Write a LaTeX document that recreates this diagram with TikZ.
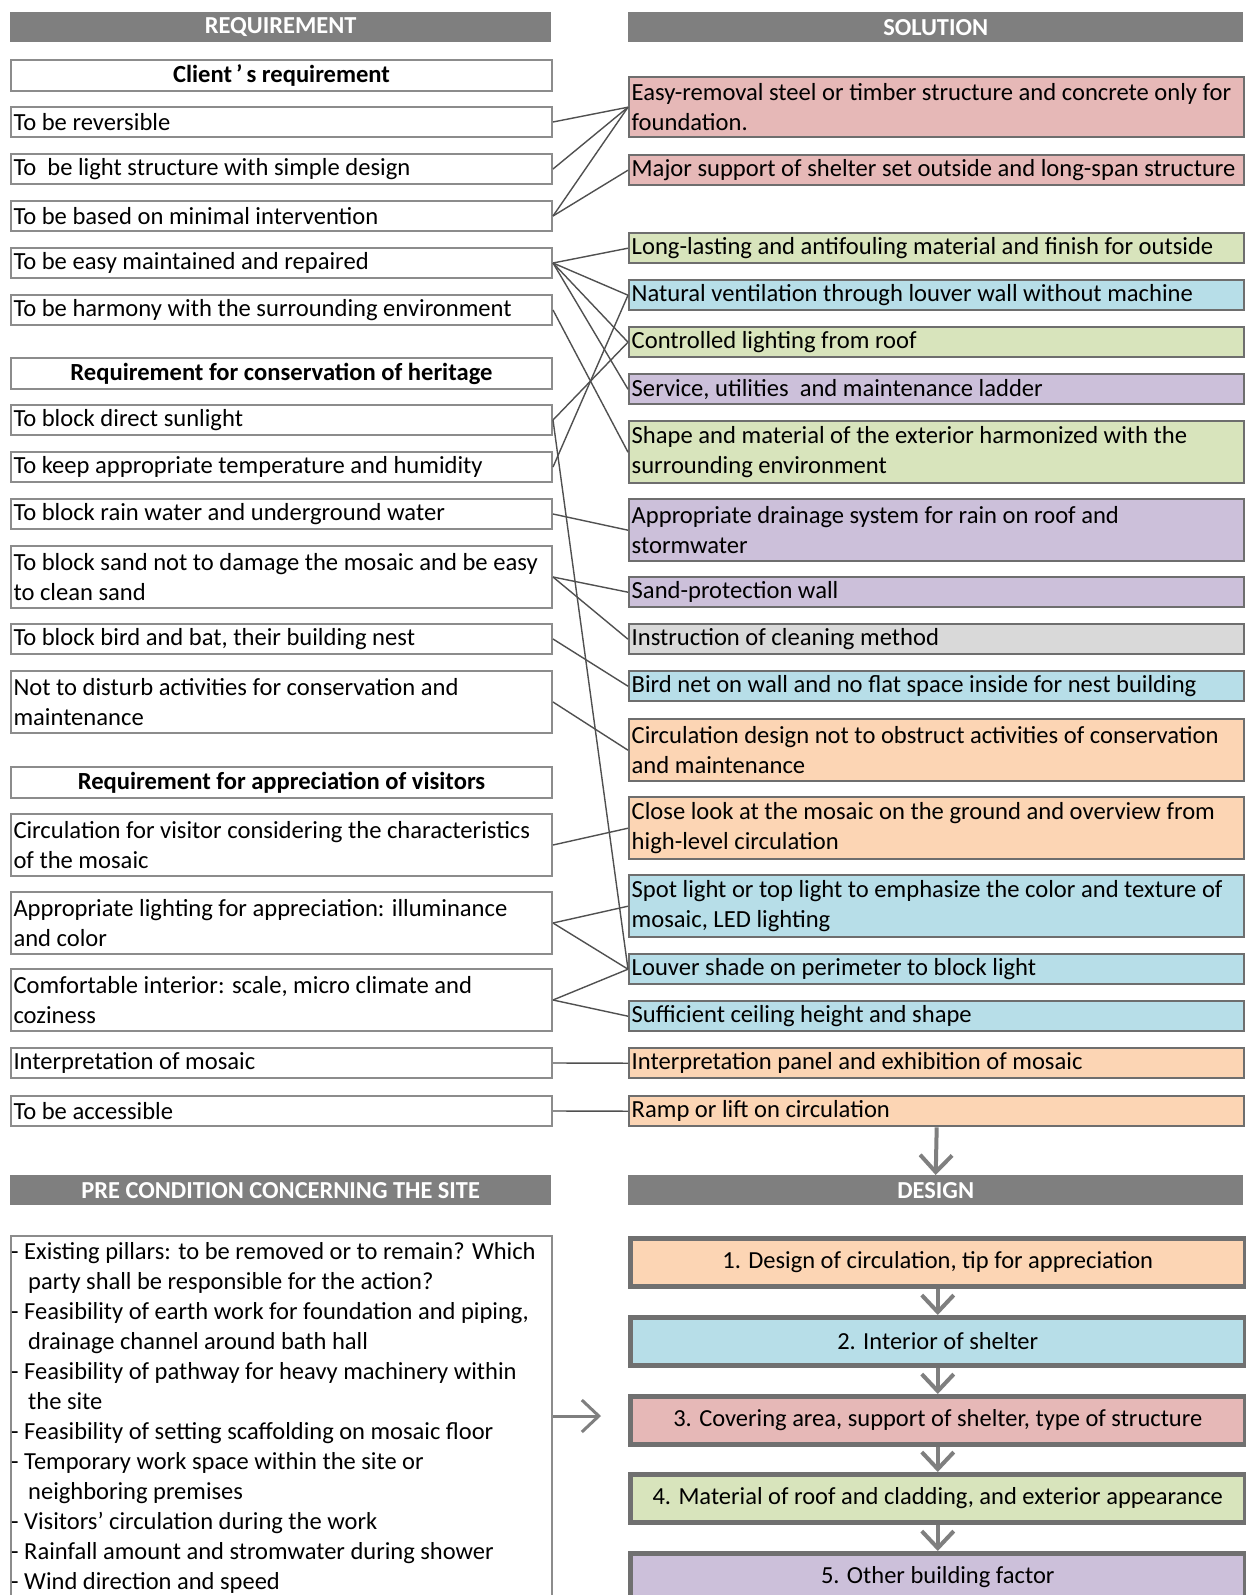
\documentclass[tikz,border=0pt]{standalone}
\usepackage{fontspec}
\setmainfont{Carlito}
\usetikzlibrary{arrows.meta}
\definecolor{cpink}{HTML}{E6B8B7}
\definecolor{cgreen}{HTML}{D8E4BC}
\definecolor{cblue}{HTML}{B7DEE8}
\definecolor{cpurple}{HTML}{CCC0DA}
\definecolor{corange}{HTML}{FCD5B4}
\definecolor{cgrey}{HTML}{D9D9D9}
\definecolor{barc}{HTML}{7F7F7F}
\definecolor{lbord}{HTML}{8C8C8C}
\definecolor{rbord}{HTML}{6E6E6E}
\definecolor{dbord}{HTML}{707070}
\definecolor{linkc}{HTML}{505050}
\begin{document}
\begin{tikzpicture}[x=1pt,y=-1pt,
 basebox/.style={font=\fontsize{24.6}{30}\selectfont, inner ysep=0pt, inner xsep=2.5pt, anchor=north west, align=flush left},
 lbox/.style={basebox, draw=lbord, line width=2pt, fill=white, text width=536pt, minimum height=30pt},
 lbox2/.style={lbox, minimum height=62pt},
 lhead/.style={lbox, align=flush center, font=\fontsize{24.6}{30}\selectfont\bfseries, minimum height=31pt},
 rbox/.style={basebox, draw=rbord, line width=2.4pt, text width=610pt, minimum height=30pt},
 rbox2/.style={rbox, minimum height=62pt},
 bar/.style={fill=barc, text=white, font=\fontsize{24.4}{26}\selectfont\bfseries, anchor=north west, inner sep=0pt, minimum height=30pt},
 dbox/.style={draw=dbord, line width=4.5pt, anchor=north west, minimum width=615pt, minimum height=48pt, inner sep=0pt, font=\fontsize{24.5}{30}\selectfont},
 link/.style={draw=linkc, line width=1.4pt},
 flow/.style={draw=barc, line width=4pt, -{Straight Barb[length=17pt,width=32pt]}},
]
\fill[white] (0,0) rectangle (1245,1595);
\useasboundingbox (0,0) rectangle (1245,1595);

% headers
\node[bar, minimum width=541pt] (hreq) at (10,12) {REQUIREMENT};
\node[bar, minimum width=615pt] (hsol) at (628,12) {SOLUTION};

% left column
\node[lhead] (lc) at (10,59) {Client\,’\,s requirement};
\node[lbox] (l1) at (10,106) {To be reversible};
\node[lbox] (l2) at (10,153) {To\ \ be light structure with simple design};
\node[lbox] (l3) at (10,200) {To be based on minimal intervention};
\node[lbox] (l4) at (10,247) {To be easy maintained and repaired};
\node[lbox] (l5) at (10,294) {\mbox{To be harmony with the surrounding environment}};
\node[lhead] (lh2) at (10,357) {Requirement for conservation of heritage};
\node[lbox] (l6) at (10,404) {To block direct sunlight};
\node[lbox] (l7) at (10,451) {\mbox{To keep appropriate temperature and humidity}};
\node[lbox] (l8) at (10,498) {To block rain water and underground water};
\node[lbox2] (l9) at (10,545) {\mbox{To block sand not to damage the mosaic and be easy}\\to clean sand};
\node[lbox] (l10) at (10,623) {To block bird and bat, their building nest};
\node[lbox2] (l11) at (10,670) {\mbox{Not to disturb activities for conservation and}\\maintenance};
\node[lhead] (lh3) at (10,766) {Requirement for appreciation of visitors};
\node[lbox2] (l12) at (10,813) {\mbox{Circulation for visitor considering the characteristics}\\of the mosaic};
\node[lbox2] (l13) at (10,891) {\mbox{Appropriate lighting for appreciation: illuminance}\\and color};
\node[lbox2] (l14) at (10,968) {\mbox{Comfortable interior: scale, micro climate and}\\coziness};
\node[lbox] (l15) at (10,1047) {Interpretation of mosaic};
\node[lbox] (l16) at (10,1095) {To be accessible};

% right column
\node[rbox2, fill=cpink, minimum height=60pt] (r1) at (628,76) {\mbox{Easy-removal steel or timber structure and concrete only for}\\foundation.};
\node[rbox, fill=cpink] (r2) at (628,154) {\mbox{Major support of shelter set outside and long-span structure}};
\node[rbox, fill=cgreen] (r3) at (628,232) {\mbox{Long-lasting and antifouling material and finish for outside}};
\node[rbox, fill=cblue] (r4) at (628,279) {\mbox{Natural ventilation through louver wall without machine}};
\node[rbox, fill=cgreen] (r5) at (628,326) {Controlled lighting from roof};
\node[rbox, fill=cpurple] (r6) at (628,373) {Service, utilities\ \ and maintenance ladder};
\node[rbox2, fill=cgreen] (r7) at (628,420) {\mbox{Shape and material of the exterior harmonized with the}\\surrounding environment};
\node[rbox2, fill=cpurple] (r8) at (628,498) {\mbox{Appropriate drainage system for rain on roof and}\\stormwater};
\node[rbox, fill=cpurple] (r9) at (628,576) {Sand-protection wall};
\node[rbox, fill=cgrey] (r10) at (628,623) {Instruction of cleaning method};
\node[rbox, fill=cblue] (r11) at (628,670) {\mbox{Bird net on wall and no flat space inside for nest building}};
\node[rbox2, fill=corange] (r12) at (628,718) {\mbox{Circulation design not to obstruct activities of conservation}\\and maintenance};
\node[rbox2, fill=corange] (r13) at (628,796) {\mbox{Close look at the mosaic on the ground and overview from}\\high-level circulation};
\node[rbox2, fill=cblue] (r14) at (628,874) {\mbox{Spot light or top light to emphasize the color and texture of}\\mosaic, LED lighting};
\node[rbox, fill=cblue] (r15) at (628,953) {Louver shade on perimeter to block light};
\node[rbox, fill=cblue] (r16) at (628,1000) {Sufficient ceiling height and shape};
\node[rbox, fill=corange] (r17) at (628,1047) {Interpretation panel and exhibition of mosaic};
\node[rbox, fill=corange] (r18) at (628,1095) {Ramp or lift on circulation};

% connectors
\draw[link] (l1.east) -- (r1.west);
\draw[link] (l2.east) -- (r1.west);
\draw[link] (l3.east) -- (r1.west);
\draw[link] (l3.east) -- (r2.west);
\draw[link] (l4.east) -- (r3.west);
\draw[link] (l4.east) -- (r4.west);
\draw[link] (l4.east) -- (r5.west);
\draw[link] (l4.east) -- (r6.west);
\draw[link] (l5.east) -- (r7.west);
\draw[link] (l6.east) -- (r5.west);
\draw[link] (l6.east) -- (r15.west);
\draw[link] (l7.east) -- (r4.west);
\draw[link] (l8.east) -- (r8.west);
\draw[link] (l9.east) -- (r9.west);
\draw[link] (l9.east) -- (r10.west);
\draw[link] (l10.east) -- (r11.west);
\draw[link] (l11.east) -- (r12.west);
\draw[link] (l12.east) -- (r13.west);
\draw[link] (l13.east) -- (r14.west);
\draw[link] (l13.east) -- (r15.west);
\draw[link] (l14.east) -- (r15.west);
\draw[link] (l14.east) -- (r16.west);
\draw[link] (l15.east) -- (r17.west);
\draw[link] (l16.east) -- (r18.west);

% lower part
\node[bar, minimum width=541pt] (hpre) at (10,1175) {PRE CONDITION CONCERNING THE SITE};
\node[bar, minimum width=615pt] (hdes) at (628,1175) {DESIGN};
\draw[flow] (r18.south) -- (hdes.north);

\node[draw=lbord, line width=2pt, anchor=north west, minimum width=541pt, minimum height=420pt, inner sep=0pt] (pre) at (10,1235) {};
\node[anchor=north west, inner sep=0pt, align=flush left, font=\fontsize{24.5}{30}\selectfont] (pretext) at (11,1242) {- Existing pillars: to be removed or to remain? Which\\\hspace*{17pt}party shall be responsible for the action?\\- Feasibility of earth work for foundation and piping,\\\hspace*{17pt}drainage channel around bath hall\\- Feasibility of pathway for heavy machinery within\\\hspace*{17pt}the site\\- Feasibility of setting scaffolding on mosaic floor\\- Temporary work space within the site or\\\hspace*{17pt}neighboring premises\\- Visitors’ circulation during the work\\- Rainfall amount and stromwater during shower\\- Wind direction and speed};

\node[dbox, fill=corange] (d1) at (628,1236) {1. Design of circulation, tip for appreciation};
\node[dbox, fill=cblue] (d2) at (628,1315) {2. Interior of shelter};
\node[dbox, fill=cpink] (d3) at (628,1394) {3. Covering area, support of shelter, type of structure};
\node[dbox, fill=cgreen] (d4) at (628,1472) {4. Material of roof and cladding, and exterior appearance};
\node[dbox, fill=cpurple] (d5) at (628,1551) {5. Other building factor};
\draw[flow] (d1.south) -- (d2.north);
\draw[flow] (d2.south) -- (d3.north);
\draw[flow] (d3.south) -- (d4.north);
\draw[flow] (d4.south) -- (d5.north);

\coordinate (preend) at (601,1416);
\draw[flow, line width=3pt] (pre.east |- preend) -- (preend);
\end{tikzpicture}
\end{document}
